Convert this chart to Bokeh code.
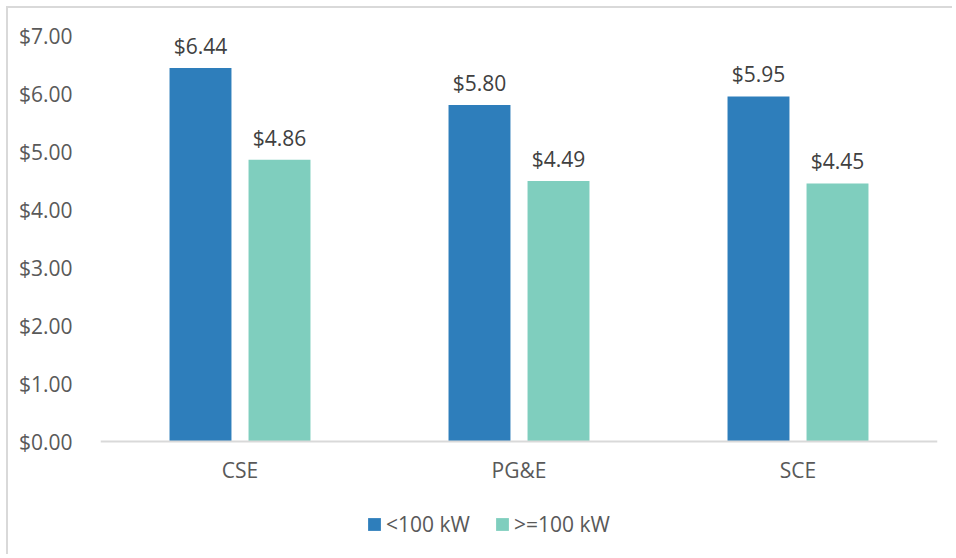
from bokeh.plotting import figure
from bokeh.models import ColumnDataSource, FactorRange, Range1d, Legend, LegendItem, NumeralTickFormatter
from bokeh.transform import dodge
from bokeh.core.properties import value
from bokeh.embed import file_html
from bokeh.resources import INLINE

categories = ["CSE", "PG&E", "SCE"]
small = [6.44, 5.80, 5.95]
large = [4.86, 4.49, 4.45]
series_names = ["<100 kW", ">=100 kW"]
yticks = [0, 1, 2, 3, 4, 5, 6, 7]

src = ColumnDataSource(dict(
    cat=categories, small=small, large=large,
    small_lbl=["${:.2f}".format(v) for v in small],
    large_lbl=["${:.2f}".format(v) for v in large],
))

FONT = "Open Sans"
FS = "21px"
p = figure(width=946, height=548, x_range=FactorRange(*categories, range_padding=0),
           y_range=Range1d(-1.895, 7), output_backend="svg", toolbar_location=None,
           min_border_left=92, min_border_right=17, min_border_top=27, min_border_bottom=5,
           styles={"border-left": "2px solid #d9d9d9", "border-top": "2px solid #d9d9d9",
                   "margin-left": "6px", "margin-top": "6px"})
p.x_range.factor_padding = 0
p.outline_line_color = None
p.xgrid.grid_line_color = None
p.ygrid.grid_line_color = None

b1 = p.vbar(x=dodge("cat", -0.1416, range=p.x_range), top="small", width=0.222, source=src,
            fill_color="#2e7ebb", line_color=None)
b2 = p.vbar(x=dodge("cat", 0.1416, range=p.x_range), top="large", width=0.222, source=src,
            fill_color="#7fcebe", line_color=None)

for col, off in (("small", -0.1416), ("large", 0.1416)):
    p.text(x=dodge("cat", off, range=p.x_range), y=col, text=col + "_lbl", source=src,
           text_align="center", text_baseline="bottom", y_offset=-8,
           text_font=value(FONT), text_font_size=FS, text_color="#404040")

p.yaxis.ticker = yticks
p.yaxis.formatter = NumeralTickFormatter(format="$0.00")
p.yaxis.axis_line_color = None
p.yaxis.major_tick_line_color = None
p.yaxis.minor_tick_line_color = None
p.yaxis.major_label_standoff = 22
p.yaxis.major_label_text_font = FONT
p.yaxis.major_label_text_font_size = FS
p.yaxis.major_label_text_color = "#595959"

p.xaxis.fixed_location = 0
p.xaxis.axis_line_color = "#d9d9d9"
p.xaxis.axis_line_width = 2
p.xaxis.major_tick_line_color = None
p.xaxis.minor_tick_line_color = None
p.xaxis.major_label_standoff = 8
p.xaxis.major_label_text_font = FONT
p.xaxis.major_label_text_font_size = FS
p.xaxis.major_label_text_color = "#595959"

legend = Legend(items=[LegendItem(label=series_names[0], renderers=[b1]),
                       LegendItem(label=series_names[1], renderers=[b2])],
                orientation="horizontal", location=(266, 13),
                glyph_width=16, glyph_height=16, label_standoff=4, spacing=24,
                padding=0, margin=0, border_line_color=None, background_fill_alpha=0,
                label_text_font=FONT, label_text_font_size=FS, label_text_color="#595959")
p.add_layout(legend, "center")

open("out.html", "w").write(file_html(p, INLINE))
